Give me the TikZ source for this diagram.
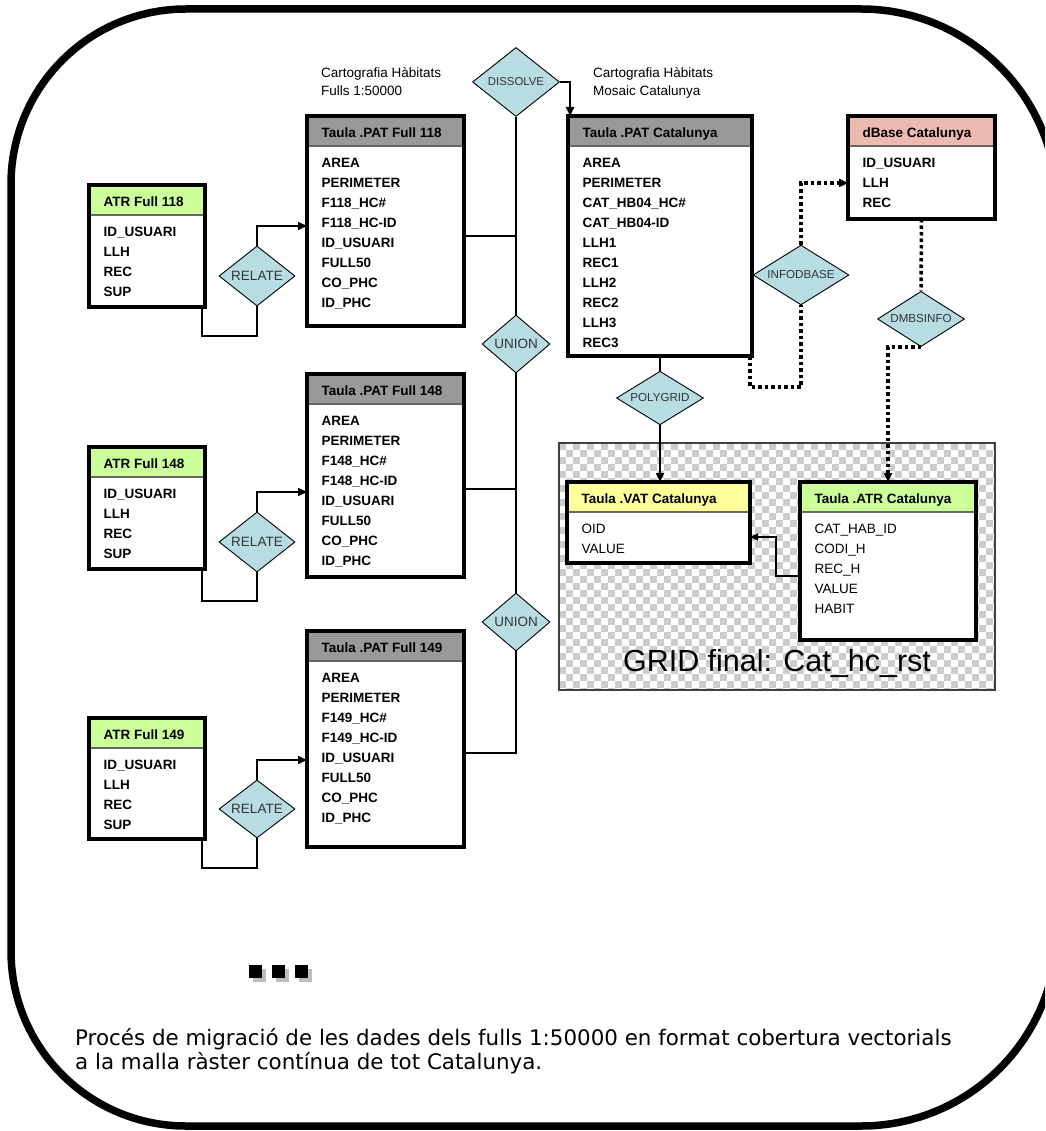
\documentclass[tikz,border=0pt]{standalone}
\usepackage{fontspec}
\setmainfont{Liberation Sans}
\newfontfamily\verd{DejaVu Sans}
\usetikzlibrary{shapes.geometric,arrows.meta,calc}
\definecolor{hdrgray}{RGB}{153,153,153}
\definecolor{hdrgreen}{RGB}{204,255,153}
\definecolor{hdryellow}{RGB}{255,255,153}
\definecolor{hdrsalmon}{RGB}{236,186,176}
\definecolor{opblue}{RGB}{183,221,226}
\definecolor{checkgray}{RGB}{204,204,204}
\definecolor{shadowgray}{RGB}{190,190,190}
\tikzset{
  tabbody/.style={rectangle, fill=white, draw=none, inner sep=0pt, outer sep=0pt},
  tabborder/.style={line width=4pt},
  sepline/.style={line width=1.5pt, draw=black!60},
  hdrtext/.style={inner sep=0pt, font=\fontsize{13.5}{16}\selectfont\bfseries},
  fieldb/.style={inner sep=0pt, font=\fontsize{13.5}{16}\selectfont\bfseries},
  fieldn/.style={inner sep=0pt, font=\fontsize{13.5}{16}\selectfont},
  op/.style={diamond, draw=black, line width=0.9pt, fill=opblue, inner sep=0pt, aspect=1.3,
    text=black!80, font=\fontsize{13.5}{15}\selectfont},
  opsmall/.style={op, font=\fontsize{11.6}{13}\selectfont},
  conn/.style={line width=1.8pt},
  arr/.style={-{Triangle[length=9pt,width=8pt]}},
  dotline/.style={line width=3.5pt, dash pattern=on 3.5pt off 3pt},
  titletext/.style={inner sep=0pt, font=\fontsize{13.5}{16}\selectfont},
  captext/.style={inner sep=0pt, font=\verd\fontsize{21.4}{24}\selectfont},
}
\newcommand\dbtab[9]{%
  \node[tabbody, minimum width={#4-#2}, minimum height={#5-#3}, anchor=north west] (#1) at (#2,#3) {};
  \fill[#6] (#1.north west) rectangle ([yshift=-30pt]#1.north east);
  \draw[sepline] ([yshift=-30pt]#1.north west) -- ([yshift=-30pt]#1.north east);
  \node[hdrtext, anchor=base west] (#1-h) at ([xshift=14.5pt,yshift=-21.5pt]#1.north west) {#7};
  \foreach \t [count=\i from 0] in {#8}
    \node[#9, anchor=base west] (#1-f\i) at ([xshift=14.5pt,yshift={-51.3-20*\i}]#1.north west) {\t};
  \draw[tabborder] (#1.north west) rectangle (#1.south east);
}
\begin{document}
\begin{tikzpicture}[x=1pt,y=-1pt]
\fill[white] (0,0) rectangle (1045,1131);
\begin{scope}
\clip (0,0) rectangle (1045,1131);
% outer frame (right side runs past the picture edge)
\draw[line width=7.5pt] (11,600) [rounded corners=175pt] |- (600,9)
  [rounded corners=196pt] -| (1057,600) |- (600,1126)
  [rounded corners=175pt] -| (11,600);
\end{scope}

% checkerboard grid area
\begin{scope}
  \clip (559,443) rectangle (995,690);
  \fill[white] (559,443) rectangle (995,690);
  \foreach \j in {0,...,35} {
    \pgfmathtruncatemacro\off{mod(\j,2)}
    \foreach \i in {0,2,...,62}
      \fill[checkgray] ({559+7*(\i+\off)},{443+7*\j}) rectangle ++(7,7);
  }
\end{scope}
\draw[line width=1.3pt, draw=black!75] (559,443) rectangle (995,690);
\node[inner sep=0pt, font=\fontsize{30.5}{34}\selectfont] (gridlabel) at (777,663) {GRID final: Cat\_hc\_rst};

% titles
\node[titletext, anchor=base west] (t1a) at (321,78) {Cartografia Hàbitats};
\node[titletext, anchor=base west] (t1b) at (321,96) {Fulls 1:50000};
\node[titletext, anchor=base west] (t2a) at (593,78) {Cartografia Hàbitats};
\node[titletext, anchor=base west] (t2b) at (593,96) {Mosaic Catalunya};

% tables
\dbtab{atr118}{89}{185}{205}{307}{hdrgreen}{ATR Full 118}{ID\_USUARI,LLH,REC,SUP}{fieldb}
\dbtab{pat118}{307}{116}{464}{326}{hdrgray}{Taula .PAT Full 118}{AREA,PERIMETER,F118\_HC\#,F118\_HC-ID,ID\_USUARI,FULL50,CO\_PHC,ID\_PHC}{fieldb}
\dbtab{atr148}{89}{447}{205}{569}{hdrgreen}{ATR Full 148}{ID\_USUARI,LLH,REC,SUP}{fieldb}
\dbtab{pat148}{307}{374}{464}{577}{hdrgray}{Taula .PAT Full 148}{AREA,PERIMETER,F148\_HC\#,F148\_HC-ID,ID\_USUARI,FULL50,CO\_PHC,ID\_PHC}{fieldb}
\dbtab{atr149}{89}{718}{205}{839}{hdrgreen}{ATR Full 149}{ID\_USUARI,LLH,REC,SUP}{fieldb}
\dbtab{pat149}{307}{631}{464}{847}{hdrgray}{Taula .PAT Full 149}{AREA,PERIMETER,F149\_HC\#,F149\_HC-ID,ID\_USUARI,FULL50,CO\_PHC,ID\_PHC}{fieldb}
\dbtab{patcat}{568}{116}{752}{356}{hdrgray}{Taula .PAT Catalunya}{AREA,PERIMETER,CAT\_HB04\_HC\#,CAT\_HB04-ID,LLH1,REC1,LLH2,REC2,LLH3,REC3}{fieldb}
\dbtab{dbase}{848}{116}{995}{219}{hdrsalmon}{dBase Catalunya}{ID\_USUARI,LLH,REC}{fieldb}
\dbtab{vat}{567}{482}{750}{563}{hdryellow}{Taula .VAT Catalunya}{OID,VALUE}{fieldn}
\dbtab{atrcat}{800}{482}{976}{640}{hdrgreen}{Taula .ATR Catalunya}{CAT\_HAB\_ID,CODI\_H,REC\_H,VALUE,HABIT}{fieldn}

% operator diamonds
\node[opsmall, minimum width=87, minimum height=69, font=\fontsize{11.4}{13}\selectfont] (dissolve) at (516,82) {DISSOLVE};
\node[op, minimum width=68, minimum height=58] (union1) at (516,344) {UNION};
\node[op, minimum width=68, minimum height=58] (union2) at (516,622) {UNION};
\node[op, minimum width=76, minimum height=60] (rel118) at (257,276) {RELATE};
\node[op, minimum width=76, minimum height=60] (rel148) at (257,542) {RELATE};
\node[op, minimum width=76, minimum height=58] (rel149) at (257,809) {RELATE};
\node[opsmall, minimum width=87, minimum height=49] (polygrid) at (660,398) {POLYGRID};
\node[opsmall, minimum width=96, minimum height=58] (infodbase) at (801,275) {INFODBASE};
\node[opsmall, minimum width=87, minimum height=48] (dmbsinfo) at (921,319) {DMBSINFO};

% relate connectors
\draw[conn] ([xshift=-3pt]atr118.south east) -- ++(0,29) -| (rel118.south);
\draw[conn,arr] (rel118.north) |- ([yshift=-110pt]pat118.north west);
\draw[conn] ([xshift=-3pt]atr148.south east) -- ++(0,32) -| (rel148.south);
\draw[conn,arr] (rel148.north) |- ([yshift=-118pt]pat148.north west);
\draw[conn] ([xshift=-3pt]atr149.south east) -- ++(0,29) -| (rel149.south);
\draw[conn,arr] (rel149.north) |- ([yshift=-129pt]pat149.north west);

% union / dissolve spine
\draw[conn] (dissolve.south) -- (union1.north);
\draw[conn] (union1.south) -- (union2.north);
\draw[conn] (union2.south) |- ([yshift=-122pt]pat149.north east);
\draw[conn] ([yshift=-120pt]pat118.north east) -| (dissolve.south);
\draw[conn] ([yshift=-115pt]pat148.north east) -| (union1.south);
\draw[line width=2.8pt,arr] (dissolve.east) -| ([xshift=2pt]patcat.north west);

% polygrid
\draw[conn] (patcat.south) -- (polygrid.north);
\draw[conn,arr] (polygrid.south) -- (polygrid.south |- vat.north);

% dotted dbase connectors
\draw[dotline] ([xshift=-2pt]patcat.south east) -- ++(0,31) -| (infodbase.south);
\draw[dotline,arr] (infodbase.north) |- ([yshift=-67pt]dbase.north west);
\draw[dotline] (dbase.south) -- (dmbsinfo.north);
\draw[dotline,arr] (dmbsinfo.south) -| ([xshift=88pt]atrcat.north west);

% atr catalunya -> vat
\draw[line width=1.2pt,-{Triangle[length=8pt,width=7pt]}] ([yshift=-94pt]atrcat.north west) -- ++(-24,0) |- ([yshift=-55pt]vat.north east);

% ellipsis squares
\foreach \x in {249,272,295} {
  \fill[shadowgray] ({\x+4},969) rectangle ++(13,13);
  \fill[black] (\x,965) rectangle ++(13,13);
}

% caption
\node[captext, anchor=base west] (cap1) at (75,1045) {Procés de migració de les dades dels fulls 1:50000 en format cobertura vectorials};
\node[captext, anchor=base west] (cap2) at (75,1069) {a la malla ràster contínua de tot Catalunya.};

\pgfresetboundingbox
\path[use as bounding box] (0,0) rectangle (1045,1131);
\end{tikzpicture}
\end{document}
